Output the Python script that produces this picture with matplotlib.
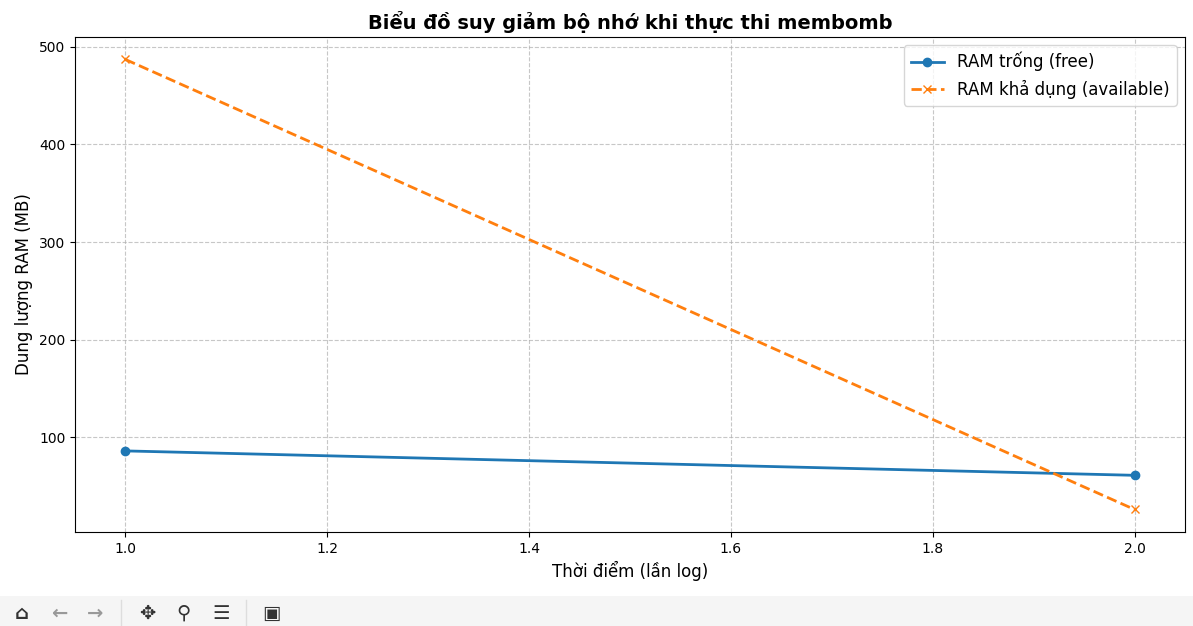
import matplotlib.pyplot as plt
from matplotlib.patches import Rectangle

# so lan log va dung luong RAM (MB)
lan_log = [1, 2]
ram_free = [86, 61]
ram_available = [487, 26]

fig = plt.figure(figsize=(11.93, 6.26), dpi=100)
ax = fig.add_axes([0.0629, 0.1502, 0.9304, 0.7907])

ax.plot(lan_log, ram_free, marker='o', linewidth=2, label='RAM trống (free)')
ax.plot(lan_log, ram_available, marker='x', linestyle='--', linewidth=2,
        label='RAM khả dụng (available)')

ax.set_title('Biểu đồ suy giảm bộ nhớ khi thực thi membomb',
             fontsize=14, fontweight='bold')
ax.set_xlabel('Thời điểm (lần log)', fontsize=12)
ax.set_ylabel('Dung lượng RAM (MB)', fontsize=12)
ax.grid(True, linestyle='--', alpha=0.7)
ax.legend(fontsize=12)

# thanh cong cu o duoi (gia lap cua so)
fig.patches.append(Rectangle((0, 0), 1, 30 / 626, transform=fig.transFigure,
                             facecolor='#f5f5f5', edgecolor='none', zorder=-1))
icons = [('⌂', 22, '#333333'), ('←', 59, '#999999'), ('→', 95, '#999999'),
         ('✥', 147, '#333333'), ('⚲', 183, '#333333'), ('☰', 221, '#333333'),
         ('▣', 271, '#333333')]
for ch, xp, col in icons:
    fig.text(xp / 1193, 3 / 626, ch, fontsize=14, color=col,
             ha='center', va='bottom', fontweight='bold')
for xp in [121, 246]:
    fig.add_artist(plt.Line2D([xp / 1193, xp / 1193], [0, 26 / 626],
                              color='#dddddd', linewidth=1,
                              transform=fig.transFigure))

fig.savefig('out.png', dpi=100)
